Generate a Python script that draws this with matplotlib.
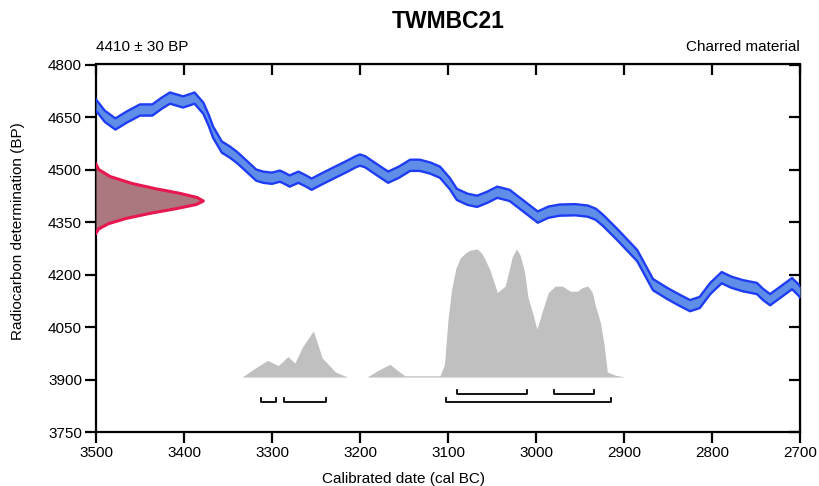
import numpy as np
import matplotlib
matplotlib.use("Agg")
import matplotlib.pyplot as plt

plt.rcParams['font.family'] = ['Liberation Sans', 'DejaVu Sans']

# calibration curve (cal BC, BP centre)
curve_year = [3500, 3499, 3490, 3478, 3465, 3450, 3436, 3425, 3416, 3401, 3395, 3388,
              3378, 3372, 3367, 3357, 3348, 3340, 3330, 3318, 3310, 3300, 3291, 3285,
              3280, 3270, 3262, 3255, 3242, 3226, 3214, 3205, 3200, 3194, 3180, 3168,
              3156, 3143, 3132, 3120, 3109, 3098, 3090, 3078, 3067, 3056, 3044, 3030,
              3014, 2998, 2986, 2973, 2955, 2941, 2932, 2924, 2908, 2885, 2867, 2851,
              2838, 2825, 2814, 2802, 2789, 2778, 2765, 2749, 2742, 2734, 2722, 2709,
              2701, 2700]
curve_bp = [4684, 4681, 4652, 4630, 4650, 4670, 4670, 4690, 4704, 4693, 4698, 4704,
            4675, 4641, 4607, 4564, 4550, 4535, 4512, 4484, 4478, 4475, 4481, 4474,
            4467, 4478, 4468, 4458, 4475, 4495, 4510, 4522, 4527, 4522, 4498, 4478,
            4492, 4512, 4512, 4504, 4492, 4460, 4429, 4415, 4409, 4420, 4435, 4426,
            4395, 4364, 4378, 4384, 4385, 4381, 4372, 4355, 4315, 4254, 4171, 4146,
            4128, 4111, 4120, 4160, 4191, 4178, 4168, 4160, 4143, 4128, 4150, 4174,
            4154, 4150]
curve_err = 16

# radiocarbon measurement profile (BP level, width in years)
meas_bp = [4515, 4500, 4480, 4460, 4445, 4432, 4420, 4410, 4400, 4388, 4375, 4360, 4345, 4330, 4318]
meas_w = [0, 3, 16, 41, 68, 95, 115, 122, 114, 91, 62, 34, 14, 3, 0]

# calibrated probability (relative)
post_year = [3334, 3319, 3305, 3293, 3288, 3282, 3274, 3265, 3253, 3243, 3228, 3214,
             3213, 3193, 3192, 3180, 3166, 3157, 3149, 3109, 3104, 3100, 3096, 3091,
             3086, 3080, 3075, 3067, 3062, 3058, 3052, 3044, 3035, 3030, 3027, 3022,
             3018, 3013, 3009, 3003, 2999, 2996, 2993, 2986, 2978, 2970, 2961, 2953,
             2947, 2941, 2936, 2933, 2927, 2923, 2920, 2919, 2910, 2899]
post_prob = [0.0, 0.07, 0.13, 0.09, 0.12, 0.16, 0.11, 0.24, 0.36, 0.15, 0.04, 0.0,
             0.0, 0.0, 0.0, 0.05, 0.10, 0.05, 0.01, 0.01, 0.10, 0.45, 0.68, 0.85,
             0.93, 0.97, 0.99, 1.0, 0.97, 0.92, 0.83, 0.66, 0.71, 0.85, 0.94, 1.0,
             0.95, 0.82, 0.62, 0.48, 0.375, 0.44, 0.51, 0.66, 0.71, 0.71, 0.67, 0.67,
             0.70, 0.71, 0.66, 0.57, 0.43, 0.27, 0.10, 0.04, 0.015, 0.0]

# ranges
range68 = [(3090, 3010), (2980, 2934)]
range95 = [(3313, 3296), (3286, 3239), (3102, 2915)]

fig = plt.figure(figsize=(8.19, 4.86), dpi=100)
ax = fig.add_axes([96/819, 54/486, 704/819, 367.5/486])

# calibration curve band
cy = np.array(curve_year)
cb = np.array(curve_bp)
ax.fill_between(cy, cb - curve_err, cb + curve_err, color='#5f8ee8', lw=0, zorder=3)
for sgn in (1, -1):
    ax.plot(cy, cb + sgn * curve_err, color='#1f3cf5', lw=1.7, zorder=4,
            solid_joinstyle='round')

# measurement distribution on the y axis
mw = np.array(meas_w)
ax.fill_betweenx(meas_bp, 3500, 3500 - mw, color='#ab7880', lw=0, zorder=3)
ax.plot(3500 - mw, meas_bp, color='#e8174f', lw=2.2, zorder=4, solid_joinstyle='round')

# calibrated distribution
base = 3907
ax.fill_between(post_year, base, base + np.array(post_prob) * 366,
                color='#c0c0c0', lw=0, zorder=2)

# range brackets
def bracket(a, b, y):
    ax.plot([a, a, b, b], [y + 9, y, y, y + 9], color='black', lw=1.3, zorder=5)

for a, b in range68:
    bracket(a, b, 3860)
for a, b in range95:
    bracket(a, b, 3837)

ax.set_xlim(3500, 2700)
ax.set_ylim(3750, 4800)
ax.set_xticks(np.arange(3500, 2699, -100))
ax.set_yticks(np.arange(3750, 4801, 150))

for s in ax.spines.values():
    s.set_linewidth(1.6)
ax.tick_params(axis='both', direction='out', length=8, width=1.6, labelsize=11,
               top=False, right=False, pad=2)

# mirrored ticks pointing inwards
sx = ax.secondary_xaxis('top')
sx.set_xticks(np.arange(3500, 2699, -100))
sx.tick_params(direction='in', length=8, width=1.6, labeltop=False)
sy = ax.secondary_yaxis('right')
sy.set_yticks(np.arange(3750, 4801, 150))
sy.tick_params(direction='in', length=8, width=1.6, labelright=False)

fig.text(448/819, 1 - 22/486, 'TWMBC21', ha='center', va='center',
         fontsize=16.5, fontweight='bold')
fig.text(96/819, 1 - 47/486, '4410 ± 30 BP', ha='left', va='center', fontsize=11)
fig.text(800/819, 1 - 47/486, 'Charred material', ha='right', va='center', fontsize=11)
fig.text(404/819, 1 - 479/486, 'Calibrated date (cal BC)', ha='center', va='center',
         fontsize=11)
fig.text(18/819, 1 - 231/486, 'Radiocarbon determination (BP)', ha='center',
         va='center', rotation=90, fontsize=11)

fig.savefig('out.png', dpi=100)
